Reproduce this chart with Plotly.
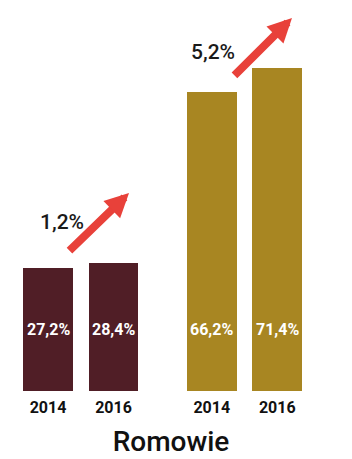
import plotly.graph_objects as go

# Data
years = ["2014", "2016", "2014", "2016"]
positions = [0, 1, 2.5, 3.5]
values = [27.2, 28.4, 66.2, 71.4]
value_labels = ["27,2%", "28,4%", "66,2%", "71,4%"]
colors = ["#501e26", "#501e26", "#a88622", "#a88622"]
growth_labels = ["1,2%", "5,2%"]
title_text = "Romowie"

FONT = "Roboto, Liberation Sans, sans-serif"
RED = "#e8413a"

fig = go.Figure()
fig.add_trace(go.Bar(
    x=positions, y=values, width=0.76,
    marker=dict(color=colors, line=dict(width=0)),
    hoverinfo="skip", showlegend=False,
))

# value labels inside bars (fixed height)
for xp, lab in zip(positions, value_labels):
    fig.add_annotation(x=xp, y=13.7, xref="x", yref="y", text=lab, showarrow=False,
                       font=dict(family=FONT, size=16, color="white", weight="bold"),
                       xanchor="center", yanchor="middle")

# growth arrows
arrows = [((0.305, 30.75), (1.237, 43.8)), ((2.824, 69.5), (3.725, 82.5))]
for (tx, ty), (hx, hy) in arrows:
    fig.add_annotation(x=hx, y=hy, ax=tx, ay=ty, xref="x", yref="y", axref="x", ayref="y",
                       text="", showarrow=True, arrowhead=2, arrowsize=0.6, arrowwidth=8,
                       arrowcolor=RED, standoff=0, startstandoff=0)

growth_pos = [(0.21, 37.4), (2.52, 75.0)]
for (gx, gy), lab in zip(growth_pos, growth_labels):
    fig.add_annotation(x=gx, y=gy, xref="x", yref="y", text=lab, showarrow=False,
                       font=dict(family=FONT, size=21, color="#1a1a1a", weight=500),
                       xanchor="center", yanchor="middle")

fig.update_layout(
    width=352, height=459,
    margin=dict(l=0, r=0, t=0, b=68),
    paper_bgcolor="white", plot_bgcolor="white",
    title=dict(text=title_text, x=171/352, xanchor="center", y=(459-441)/459, yanchor="middle",
               yref="container", font=dict(family=FONT, size=28, color="#111111", weight=500)),
    xaxis=dict(range=[-48/65.5, (352-48)/65.5], tickvals=positions, ticktext=years,
               showgrid=False, zeroline=False, showline=False, ticks="",
               ticklabelstandoff=5,
               tickfont=dict(family=FONT, size=16, color="#111111", weight="bold"),
               fixedrange=True),
    yaxis=dict(range=[0, 391/4.52], visible=False, fixedrange=True),
    bargap=0,
)

fig.write_html("out.html")
